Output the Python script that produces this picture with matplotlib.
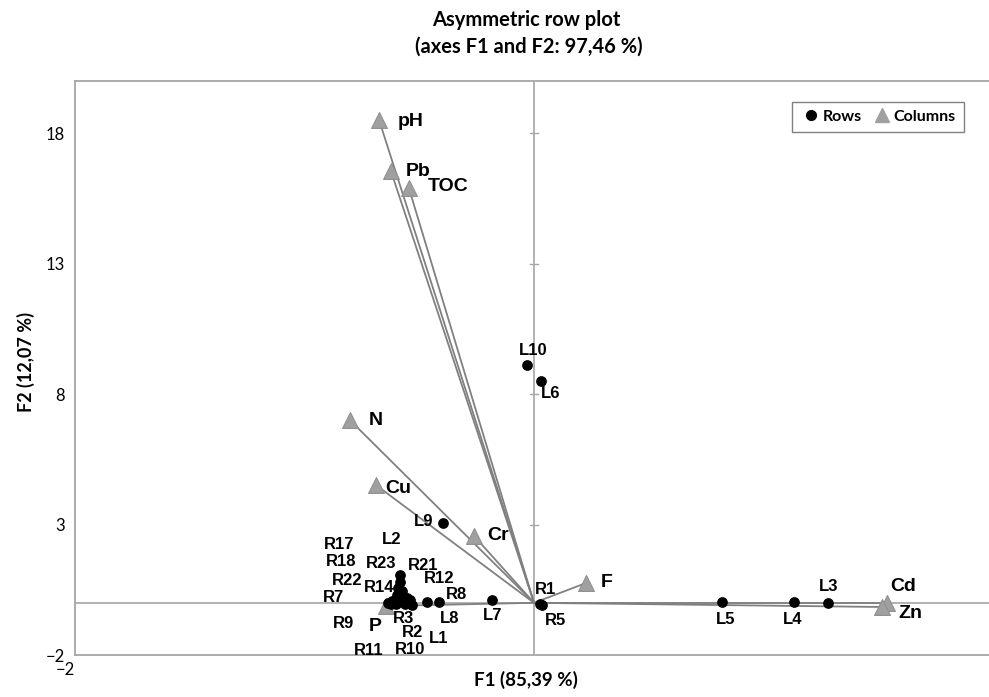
import matplotlib
matplotlib.use('Agg')
import matplotlib.pyplot as plt
from matplotlib.lines import Line2D

# ---- data (F1, F2 coordinates) ----
col_names = ['pH', 'Pb', 'TOC', 'N', 'Cu', 'Cr', 'F', 'Cd', 'Zn', 'P']
col_f1 = [-0.675, -0.623, -0.545, -0.802, -0.688, -0.261, 0.227, 1.538, 1.516, -0.645]
col_f2 = [18.50, 16.54, 15.89, 7.00, 4.51, 2.56, 0.76, 0.00, -0.16, -0.12]

row_names = ['L1', 'L3', 'L4', 'L5', 'L6', 'L7', 'L8', 'L9', 'L10', 'R1', 'R5',
             'R21', 'R23', 'L2', 'R17', 'R18', 'R22', 'R14', 'R7', 'R12', 'R8',
             'R3', 'R9', 'R2', 'R10', 'R11']
row_f1 = [-0.468, 1.281, 1.133, 0.819, 0.031, -0.184, -0.413, -0.398, -0.031, 0.026, 0.035,
          -0.584, -0.584, -0.591, -0.598, -0.577, -0.620, -0.584, -0.635, -0.540, -0.555,
          -0.605, -0.625, -0.533, -0.560, -0.600]
row_f2 = [0.02, 0.00, 0.03, 0.03, 8.50, 0.11, 0.02, 3.07, 9.11, -0.05, -0.07,
          1.05, 0.80, 0.56, 0.30, 0.45, 0.08, 0.10, -0.02, 0.12, 0.18,
          0.00, -0.06, -0.08, -0.04, -0.06]

# label offsets in pixels (label centre relative to the mark)
col_offsets = {'pH': (32, -1), 'Pb': (27, 0), 'TOC': (39, 2), 'N': (26, 0), 'Cu': (22, -3),
               'Cr': (24, 1), 'F': (21, 0), 'Cd': (16, 16), 'Zn': (28, -7), 'P': (-11, -21)}
row_offsets = {'L1': (12, -36), 'L3': (1, 16), 'L4': (-1, -17), 'L5': (4, -17),
               'L6': (10, -12), 'L7': (1, -16), 'L8': (10, -16), 'L9': (-19, 1),
               'L10': (6, 15), 'R1': (6, 15), 'R5': (13, -16),
               'R21': (23, 10), 'R23': (-19, 18), 'L2': (-7, 49), 'R17': (-58, 50),
               'R18': (-60, 30), 'R22': (-45, 20), 'R14': (-21, 13), 'R7': (-55, 6),
               'R12': (29, 21), 'R8': (50, 4), 'R3': (8, -16), 'R9': (-47, -19),
               'R2': (1, -28), 'R10': (5, -46), 'R11': (-28, -46)}

GRID = '#a6a6a6'
TRI = '#a0a0a0'
LINE = '#808080'

fig = plt.figure(figsize=(9.89, 6.97), dpi=100)
ax = fig.add_axes([75 / 989, 42 / 697, 918 / 989, 574 / 697])
ax.set_xlim(-2, 2)
ax.set_ylim(-2, 20)

# frame
for side in ['left', 'top', 'bottom']:
    ax.spines[side].set_color(GRID)
    ax.spines[side].set_linewidth(1.3)
ax.spines['right'].set_visible(False)

# zero axes with small ticks on the vertical one
ax.axhline(0, color=GRID, lw=1.2, zorder=1)
ax.axvline(0, color=GRID, lw=1.2, zorder=1)
yticks = [-2, 3, 8, 13, 18]
for t in yticks[1:]:
    ax.plot([-0.018, 0.018], [t, t], color=GRID, lw=1.0, zorder=1)

ax.set_yticks(yticks)
ax.set_xticks([-2])
ax.tick_params(length=0, labelsize=12, pad=7)
for lab in ax.get_yticklabels() + ax.get_xticklabels():
    lab.set_fontfamily('Lato')
ax.tick_params(axis='x', pad=5)
ax.get_xticklabels()[0].set_horizontalalignment('right')

# column vectors from the origin
for x, y in zip(col_f1, col_f2):
    ax.plot([0, x], [0, y], color=LINE, lw=1.3, zorder=2)

ax.scatter(row_f1, row_f2, s=45, color='black', zorder=4)
ax.scatter(col_f1, col_f2, s=130, marker='^', color=TRI, edgecolors='#909090',
           linewidths=0.8, zorder=3)

lab_kw = dict(textcoords='offset pixels', ha='center', va='center',
              fontweight='bold', family='Liberation Sans', zorder=5)
for n, x, y in zip(row_names, row_f1, row_f2):
    ax.annotate(n, (x, y), xytext=row_offsets[n], fontsize=12, **lab_kw)
for n, x, y in zip(col_names, col_f1, col_f2):
    ax.annotate(n, (x, y), xytext=col_offsets[n], fontsize=14, **lab_kw)

# legend
handles = [Line2D([], [], marker='o', ls='none', color='black', markersize=7),
           Line2D([], [], marker='^', ls='none', color=TRI, markersize=10)]
leg = ax.legend(handles, ['Rows', 'Columns'], ncol=2, loc='upper right',
                bbox_to_anchor=(0.968, 0.964), borderaxespad=0, frameon=True,
                fancybox=False, handletextpad=0.0, columnspacing=0.6,
                handlelength=1.4, borderpad=0.5,
                prop={'family': 'Lato', 'weight': 'bold', 'size': 11.5})
leg.get_frame().set_edgecolor('#606060')
leg.get_frame().set_linewidth(1.0)

# titles
fig.text(0.532, 0.972, 'Asymmetric row plot', ha='center', va='center',
         fontsize=14.5, fontweight='bold', family='Lato')
fig.text(0.535, 0.933, '(axes F1 and F2: 97,46 %)', ha='center', va='center',
         fontsize=14.5, fontweight='bold', family='Lato')
fig.text(0.532, 0.012, 'F1 (85,39 %)', ha='center', va='bottom',
         fontsize=13.5, fontweight='bold', family='Lato')
fig.text(0.026, 0.48, 'F2 (12,07 %)', ha='center', va='center', rotation=90,
         fontsize=13, fontweight='bold', family='Lato')

fig.savefig('out.png', dpi=100, facecolor='white')
